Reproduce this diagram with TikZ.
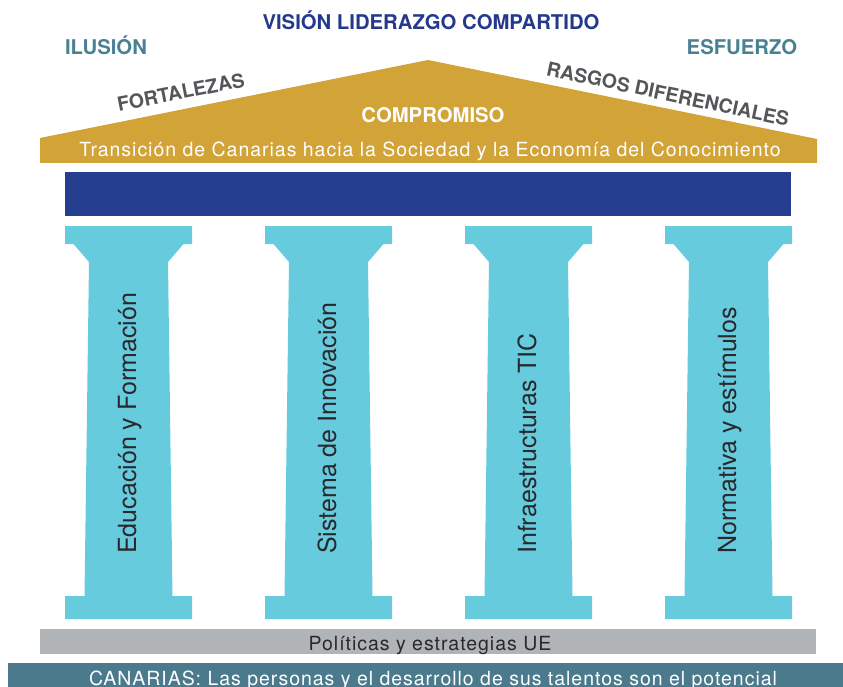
\documentclass[tikz,border=0pt]{standalone}
\usepackage{fontspec}
\setmainfont{TeX Gyre Heros}
\newfontfamily\spacedfont[LetterSpace=5]{TeX Gyre Heros}

\definecolor{roofgold}{RGB}{210,164,56}
\definecolor{beamblue}{RGB}{37,61,142}
\definecolor{pillarcyan}{RGB}{102,203,220}
\definecolor{basegray}{RGB}{177,180,182}
\definecolor{groundteal}{RGB}{74,122,140}
\definecolor{titleblue}{RGB}{37,57,140}
\definecolor{wordteal}{RGB}{74,128,147}
\definecolor{wordgray}{RGB}{85,86,90}
\definecolor{pillarink}{RGB}{40,40,45}

\begin{document}
\begin{tikzpicture}[x=1pt, y=-1pt,
        caps/.style={font=\fontsize{20.3}{20.3}\selectfont\bfseries, inner sep=0pt},
        slope/.style={text=wordgray, inner sep=0pt, font=\fontsize{19.5}{19.5}\selectfont\bfseries},
        pillar/.style={fill=pillarcyan},
        pillartext/.style={font=\fontsize{25}{25}\selectfont, text=pillarink, rotate=90, anchor=base west, inner sep=0pt},
        bandtext/.style={inner sep=0pt, anchor=base, font=\spacedfont\fontsize{19.5}{19.5}\selectfont},
    ]
    \useasboundingbox (0,0) rectangle (843,687);

    \node[caps, text=titleblue, anchor=base] (vision) at (431,30) {VISIÓN LIDERAZGO COMPARTIDO};
    \node[caps, text=wordteal, anchor=base] (ilusion) at (106,55) {ILUSIÓN};
    \node[caps, text=wordteal, anchor=base] (esfuerzo) at (742,55) {ESFUERZO};

    \fill[roofgold] (40,163) -- (40,138) -- (428,60) -- (817,139) -- (817,163) -- cycle;
    \node[slope, rotate=11] (fortalezas) at (181,92) {FORTALEZAS};
    \node[slope, rotate=-12] (rasgos) at (668,94) {RASGOS DIFERENCIALES};
    \node[caps, text=white, anchor=base] (compromiso) at (433,123) {COMPROMISO};
    \node[bandtext, text=white] (transicion) at (430,157)
        {Transición de Canarias hacia la Sociedad y la Economía del Conocimiento};

    \fill[beamblue] (65,172) rectangle (791,216);

    \foreach \c/\txt [count=\i] in {128.5/Educación y Formación, 328.5/Sistema de Innovación,
            528.5/Infraestructuras TIC, 728.5/Normativa y estímulos} {
        \fill[pillar, shift={(\c,0)}] (-63.5,226) -- (63.5,226) -- (63.5,244) -- (55,244) -- (39.5,262)
            -- (44,596) -- (63.5,596) -- (63.5,619) -- (-63.5,619) -- (-63.5,596) -- (-44,596)
            -- (-39.5,262) -- (-55,244) -- (-63.5,244) -- cycle;
        \node[pillartext] (pilar\i) at (\c+7.5,554) {\txt};
    }

    \fill[basegray] (40,629) rectangle (816,654);
    \node[bandtext, text=pillarink] (politicas) at (430,650) {Políticas y estrategias UE};

    \fill[groundteal] (8,663) rectangle (843,690);
    \node[bandtext, text=white] (canarias) at (433,685)
        {CANARIAS: Las personas y el desarrollo de sus talentos son el potencial};
\end{tikzpicture}
\end{document}
